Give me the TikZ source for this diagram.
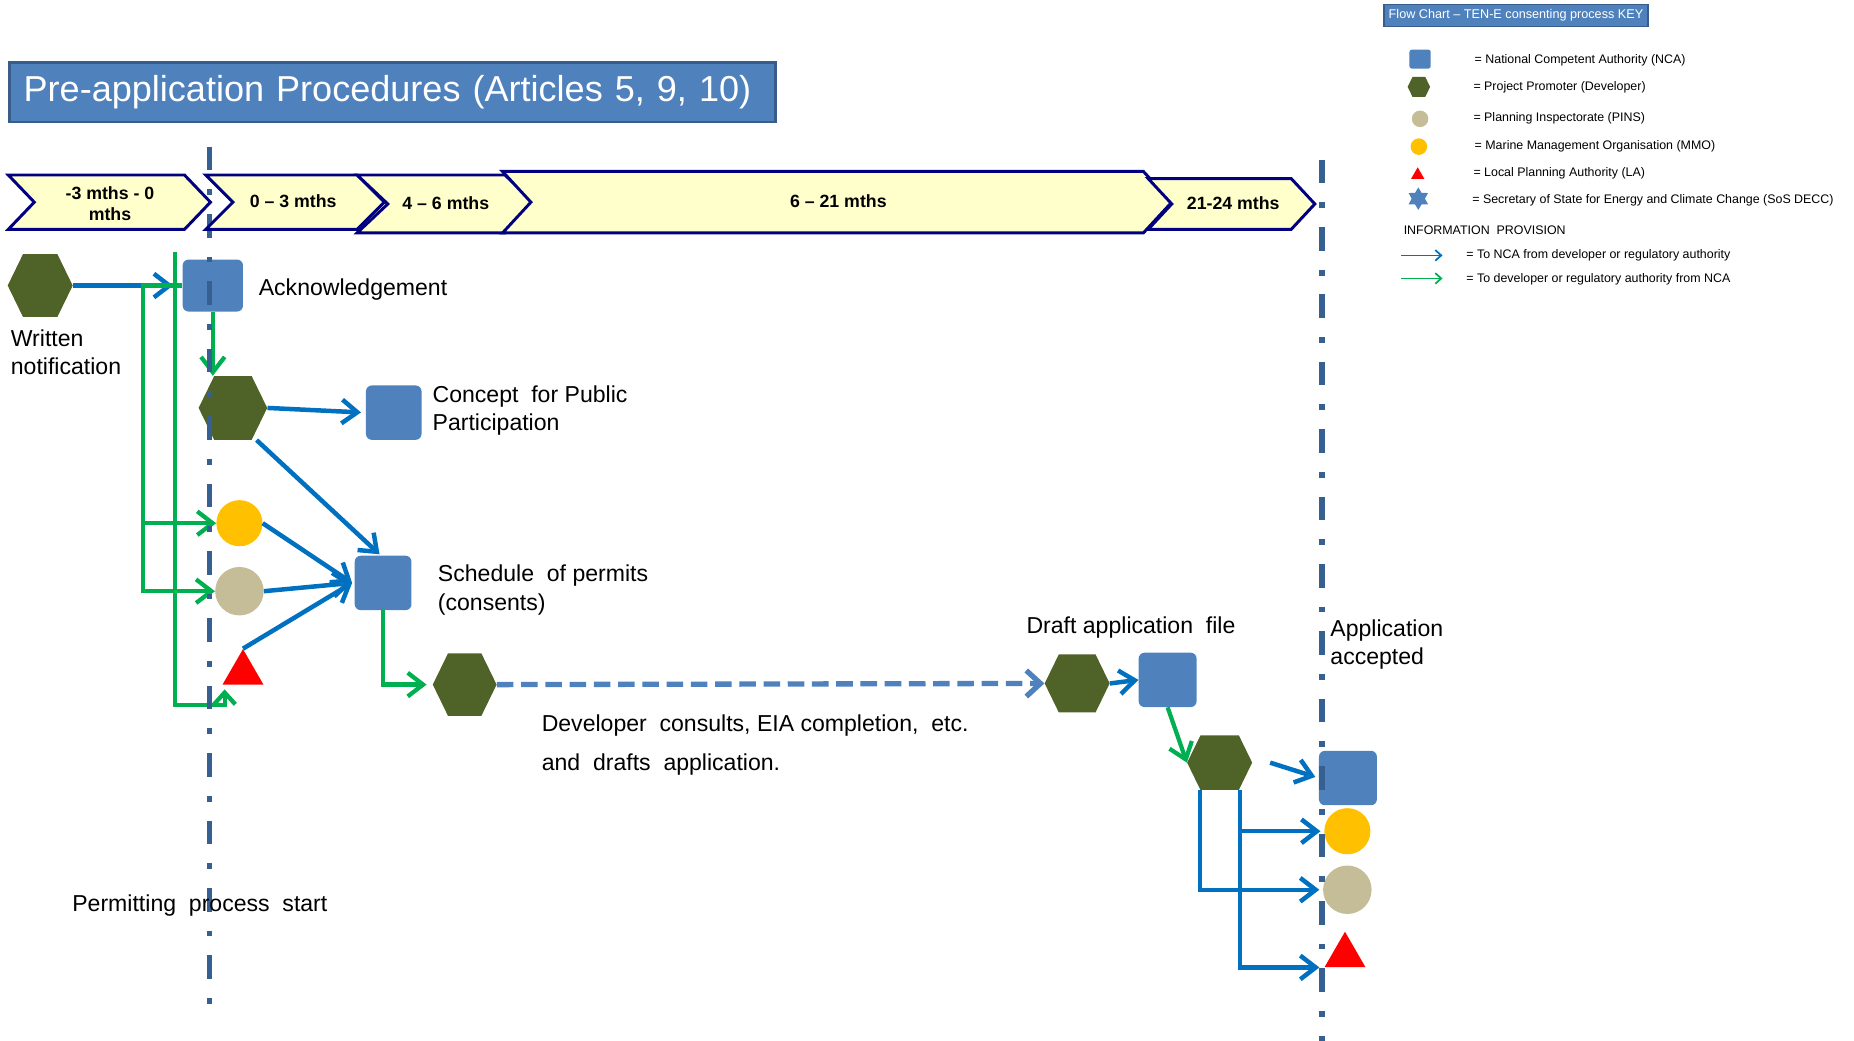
\documentclass[tikz,border=0pt]{standalone}
\usepackage{fontspec}
\setmainfont{Liberation Sans}
\usetikzlibrary{arrows.meta,shapes.geometric,shapes.symbols,positioning}

\definecolor{ncablue}{HTML}{4F81BD}
\definecolor{ncaedge}{HTML}{385D8A}
\definecolor{devgreen}{HTML}{4F6228}
\definecolor{pinsgrey}{HTML}{C4BD97}
\definecolor{mmoyellow}{HTML}{FFC000}
\definecolor{lared}{HTML}{FF0000}
\definecolor{toblue}{HTML}{0070C0}
\definecolor{togreen}{HTML}{00B050}
\definecolor{chevfill}{HTML}{FFFFCC}
\definecolor{chevedge}{HTML}{000080}
\definecolor{startline}{HTML}{376092}

\tikzset{
  nca/.style={rectangle, rounded corners=5pt, fill=ncablue, minimum width=49pt, minimum height=46pt, inner sep=0pt},
  dev/.style={signal, signal to=east and west, signal pointer angle=128, fill=devgreen, minimum width=55pt, minimum height=53pt, inner sep=0pt},
  pins/.style={circle, fill=pinsgrey, minimum size=41pt, inner sep=0pt},
  mmo/.style={circle, fill=mmoyellow, minimum size=39pt, inner sep=0pt},
  la/.style={regular polygon, regular polygon sides=3, fill=lared, minimum size=40pt, inner sep=0pt},
  sos/.style={star, star points=6, star point ratio=1.7, fill=ncablue, minimum size=19pt, inner sep=0pt},
  lbl/.style={font=\fontsize{19.5}{24}\selectfont, align=left, inner sep=0pt},
  keytxt/.style={font=\fontsize{10.5}{12}\selectfont, anchor=west, inner sep=0pt},
  chevtxt/.style={font=\bfseries\fontsize{15}{18}\selectfont, align=center, inner sep=0pt},
  chev/.style={fill=chevfill, draw=chevedge, line width=2.5pt, line join=miter},
  toNCA/.style={draw=toblue, line width=3.8pt, -{Straight Barb[length=13pt,width=20pt]}},
  fromNCA/.style={draw=togreen, line width=3.6pt, -{Straight Barb[length=13pt,width=20pt]}},
  consult/.style={draw=ncablue, line width=4.5pt, dash pattern=on 14pt off 6.5pt, -{Straight Barb[length=12pt,width=22pt]}},
  milestone/.style={draw=startline, line width=4.5pt, dash pattern=on 20pt off 16pt on 5pt off 16pt},
}

\begin{document}
\begin{tikzpicture}[x=1pt,y=-1pt]
  \useasboundingbox (0,0) rectangle (1568,880);

  % actors
  \node[dev] (wn) at (34,241.5) {};
  \node[nca, minimum width=51pt, minimum height=44pt] (ack) at (180,241.5) {};
  \node[dev, minimum width=58pt, minimum height=54pt] (cpdev) at (197,345) {};
  \node[nca, minimum width=47pt] (cpp) at (333,349) {};
  \node[mmo] (mmo1) at (202.5,442.5) {};
  \node[pins] (pins1) at (202.5,500) {};
  \node[la] (la1) at (205.5,569) {};
  \node[nca, minimum width=48pt] (sch) at (324,493) {};
  \node[dev, minimum width=54pt] (cdev) at (393,579) {};
  \node[dev, minimum height=49pt] (dfdev) at (911,578) {};
  \node[nca] (dft) at (987.5,575) {};
  \node[dev, minimum height=46pt] (subdev) at (1031.5,645) {};
  \node[nca] (acc) at (1140,658) {};
  \node[mmo] (mmo2) at (1139.5,703) {};
  \node[pins] (pins2) at (1139.5,752.5) {};
  \node[la] (la2) at (1137.5,808) {};

  % information provision
  \coordinate (busA) at (121,241.5);
  \coordinate (busB) at (148,213);
  \coordinate (laIn) at (190,583);
  \draw[toNCA] (wn.east) -- ([xshift=-8pt]ack.west);
  \draw[fromNCA] (ack.west) -- (busA) |- (pins1.west);
  \draw[fromNCA] (busA |- mmo1.west) -- (mmo1.west);
  \draw[fromNCA, -{Straight Barb[length=10pt,width=18pt]}] (busB) |- ([yshift=-13pt]laIn) -- (laIn);
  \draw[fromNCA] (ack.south) -- (ack.south |- cpdev.north);
  \draw[toNCA, shorten >=4pt] (cpdev.east) -- (cpp.west);
  \draw[toNCA] ([xshift=20pt]cpdev.south) -- ([xshift=-3pt,yshift=1pt]sch.north);
  \draw[toNCA] (mmo1.east) -- ([xshift=-2pt]sch.west);
  \draw[toNCA] (pins1.east) -- ([xshift=-2pt]sch.west);
  \draw[toNCA] (la1.north) -- ([xshift=-2pt]sch.west);
  \draw[fromNCA, shorten >=5pt] (sch.south) |- (cdev.west);
  \draw[consult] (cdev.east) -- (dfdev.west);
  \draw[toNCA] (dfdev.east) -- (dft.west);
  \draw[fromNCA] (dft.south) -- (subdev.west);
  \coordinate (tapA) at ([xshift=-16.5pt]subdev.south);
  \coordinate (tapB) at ([xshift=17pt]subdev.south);
  \draw[toNCA, shorten >=3pt] ([xshift=15pt]subdev.east) -- (acc.west);
  \draw[toNCA, shorten >=3pt] (tapA) |- (pins2.west);
  \draw[toNCA, shorten >=4pt] (tapB) |- (la2.corner 2);
  \draw[toNCA, shorten >=3pt] (tapB |- mmo2.west) -- (mmo2.west);

  % permitting start and acceptance
  \draw[milestone] (177,124) -- (177,849);
  \draw[milestone] (1118,135) -- (1118,880);

  % timeline
  \foreach \xa/\xb/\d/\ya/\yb/\tx/\ty/\lab [count=\i] in {
      7/156/22/148/194/93/172/{-3 mths - 0\\mths},
      174/302/23/148/194/248/170/{0 -- 3 mths},
      302/427/26/148/197/377/172/{4 -- 6 mths},
      425/967/24/145/197/709/170/{6 -- 21 mths},
      971/1092/20/151/194/1043/172/{21-24 mths}}
  {
    \draw[chev] (\xa,\ya) -- (\xb,\ya) -- ({\xb+\d},{(\ya+\yb)/2}) -- (\xb,\yb)
      -- (\xa,\yb) -- ({\xa+\d},{(\ya+\yb)/2}) -- cycle;
    \node[chevtxt] (period\i) at (\tx,\ty) {\lab};
  }

  % labels
  \node[lbl, anchor=base west] (wnlbl) at (9,317) {Written\\notification};
  \node[lbl, right=13pt of ack, yshift=-3pt] (acklbl) {Acknowledgement};
  \node[lbl, right=9pt of cpp, yshift=2pt] (cpplbl) {Concept\ \ for Public\\Participation};
  \node[lbl, right=22pt of sch, yshift=-6pt] (schlbl) {Schedule\ \ of permits\\(consents)};
  \node[lbl, anchor=base west] (dftlbl) at (868,536) {Draft application\ \ file};
  \node[lbl, anchor=base west] (acclbl) at (1125,562) {Application\\accepted};
  \node[lbl, anchor=base west, font=\fontsize{19.5}{33.4}\selectfont] (devlbl) at (458,652)
    {Developer\ \ consults, EIA completion,\ \ etc.\\and\ \ drafts\ \ application.};
  \node[lbl, anchor=base west] (startlbl) at (61,771) {Permitting\ \ process\ \ start};

  % title
  \node[anchor=north west, fill=ncablue, draw=ncaedge, line width=2pt, minimum height=50pt,
    inner xsep=12pt, text width=624pt, text=white, font=\fontsize{30.5}{36}\selectfont]
    (title) at (7,52) {\raisebox{-2pt}{Pre-application Procedures (Articles 5, 9, 10)}};

  % key
  \node[anchor=north west, fill=ncablue, draw=ncaedge, line width=1pt, minimum height=19pt,
    inner xsep=4pt, text=white, font=\fontsize{10.7}{12}\selectfont]
    (keyttl) at (1170,3) {Flow Chart -- TEN-E consenting process KEY};
  \node[nca, minimum width=18pt, minimum height=16pt, rounded corners=2pt] (knca) at (1201,50) {};
  \node[dev, minimum width=19pt, minimum height=17pt] (kdev) at (1200,73.5) {};
  \node[pins, minimum size=14pt] (kpins) at (1201,100.5) {};
  \node[mmo, minimum size=14pt] (kmmo) at (1200,124) {};
  \node[la, minimum size=13pt] (kla) at (1199,148) {};
  \node[sos] (ksos) at (1199.5,168) {};
  \node[keytxt] (kncat) at (1247,51) {= National Competent Authority (NCA)};
  \node[keytxt] (kdevt) at (1246,74) {= Project Promoter (Developer)};
  \node[keytxt] (kpinst) at (1246,100) {= Planning Inspectorate (PINS)};
  \node[keytxt] (kmmot) at (1247,124) {= Marine Management Organisation (MMO)};
  \node[keytxt] (klat) at (1246,146.5) {= Local Planning Authority (LA)};
  \node[keytxt] (ksost) at (1245,169) {= Secretary of State for Energy and Climate Change (SoS DECC)};
  \node[keytxt] (kinfo) at (1187,195) {INFORMATION\ \ PROVISION};
  \coordinate (kbA) at (1185,216);
  \coordinate (kbB) at (1220,216);
  \coordinate (kgA) at (1185,235.5);
  \coordinate (kgB) at (1220,235.5);
  \draw[toNCA, line width=1.5pt, -{Straight Barb[length=5pt,width=9pt]}] (kbA) -- (kbB);
  \draw[fromNCA, line width=1.5pt, -{Straight Barb[length=5pt,width=9pt]}] (kgA) -- (kgB);
  \node[keytxt] (kbt) at (1240,216) {= To NCA from developer or regulatory authority};
  \node[keytxt] (kgt) at (1240,236) {= To developer or regulatory authority from NCA};
\end{tikzpicture}
\end{document}
